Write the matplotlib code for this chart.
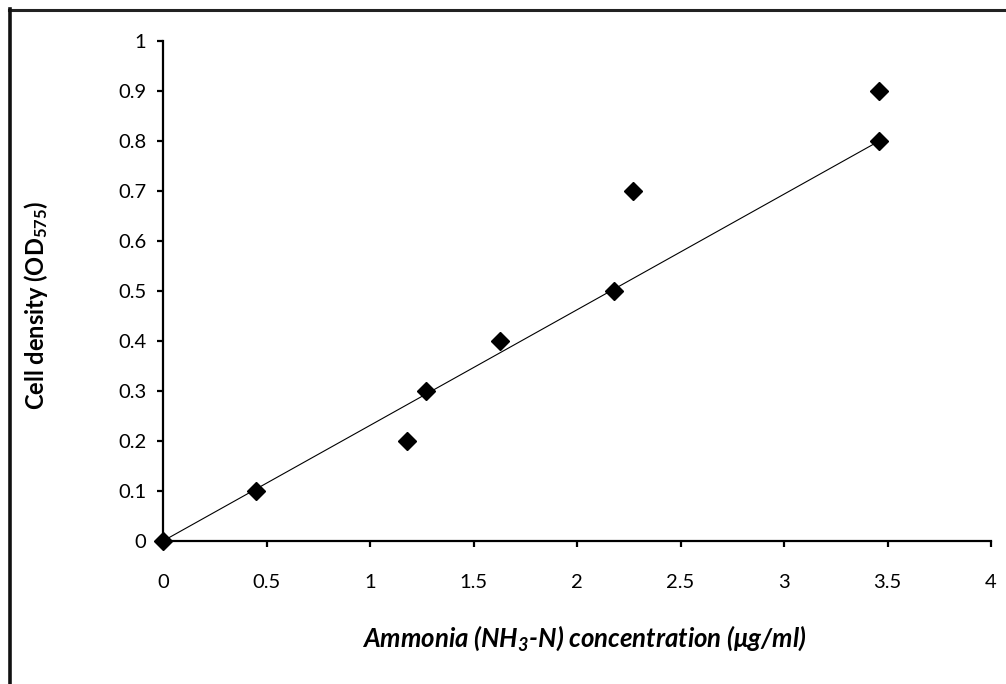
import matplotlib
matplotlib.use("Agg")
import matplotlib.pyplot as plt
from matplotlib.lines import Line2D

# Data
ammonia = [0.0, 0.45, 1.18, 1.27, 1.63, 2.18, 2.27, 3.46, 3.46]
cell_density = [0.0, 0.1, 0.2, 0.3, 0.4, 0.5, 0.7, 0.8, 0.9]
trend_x = [0.0, 3.46]
trend_y = [0.0, 0.8]
x_ticks = [0, 0.5, 1, 1.5, 2, 2.5, 3, 3.5, 4]
x_tick_labels = ["0", "0.5", "1", "1.5", "2", "2.5", "3", "3.5", "4"]
y_ticks = [0, 0.1, 0.2, 0.3, 0.4, 0.5, 0.6, 0.7, 0.8, 0.9, 1]
y_tick_labels = ["0", "0.1", "0.2", "0.3", "0.4", "0.5", "0.6", "0.7", "0.8", "0.9", "1"]

plt.rcParams['font.family'] = ['Lato', 'DejaVu Sans']
plt.rcParams['mathtext.fontset'] = 'custom'
plt.rcParams['mathtext.rm'] = 'Lato:italic:bold'
plt.rcParams['mathtext.bf'] = 'Lato:bold'

W, H = 1006, 684
fig = plt.figure(figsize=(W / 100, H / 100), dpi=100)
ax = fig.add_axes([163 / W, 1 - 541 / H, (991 - 163) / W, (541 - 41) / H])

ax.plot(trend_x, trend_y, color='black', linewidth=0.8, zorder=2)
ax.plot(ammonia, cell_density, linestyle='none', marker='D', markersize=8.8,
        color='black', zorder=3, clip_on=False)

ax.set_xlim(0, 4)
ax.set_ylim(0, 1)
ax.set_xticks(x_ticks)
ax.set_xticklabels(x_tick_labels)
ax.set_yticks(y_ticks)
ax.set_yticklabels(y_tick_labels)

for s in ['top', 'right']:
    ax.spines[s].set_visible(False)
for s in ['left', 'bottom']:
    ax.spines[s].set_linewidth(1.6)
ax.tick_params(axis='both', direction='out', length=4, width=1.6, labelsize=14.5, colors='black')
ax.tick_params(axis='x', pad=20)
ax.tick_params(axis='y', pad=8)

fig.text(584 / W, 1 - 638 / H, r"Ammonia (NH$_3$-N) concentration (μg/ml)",
         ha='center', va='center', fontsize=18.5, fontweight='bold', fontstyle='italic')
fig.text(36 / W, 1 - 305 / H, r"Cell density (OD$\mathbf{_{575}}$)",
         ha='center', va='center', rotation=90, fontsize=17, fontweight='bold')

# outer frame (top and left edges)
fig.add_artist(Line2D([9 / W, 1], [1 - 10 / H, 1 - 10 / H], transform=fig.transFigure,
                      color='#222222', linewidth=2.2))
fig.add_artist(Line2D([10 / W, 10 / W], [0, 1 - 9 / H], transform=fig.transFigure,
                      color='#111111', linewidth=2.6))

fig.savefig("out.png", dpi=100)
